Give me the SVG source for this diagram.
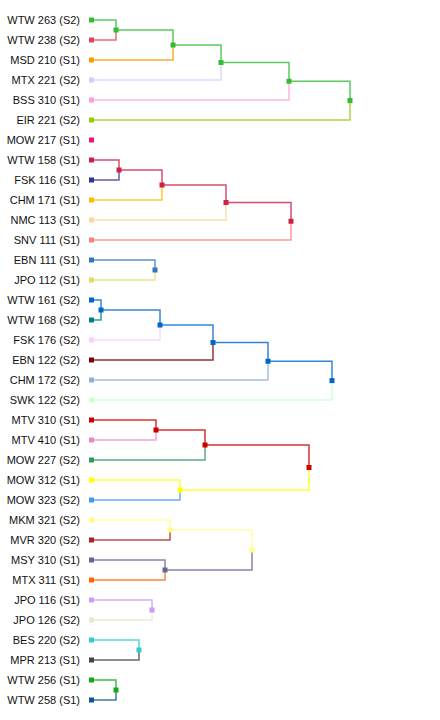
<svg xmlns="http://www.w3.org/2000/svg" width="440" height="720" viewBox="0 0 440 720">
<style>
.bg{fill:#ffffff}
.lbl{font-family:"Liberation Sans",Arial,sans-serif;font-size:11px;fill:#111111;text-anchor:end}
.c{fill:none;stroke-width:1.5;stroke-opacity:0.8}
</style>
<rect class="bg" x="0" y="0" width="440" height="720"/>
<g id="connectors">
<path class="c" stroke="#33bb33" d="M91.5 20H116V30"/>
<path class="c" stroke="#dd4455" d="M91.5 40H116V30"/>
<path class="c" stroke="#33bb33" d="M116 30H173V45"/>
<path class="c" stroke="#ff9900" d="M91.5 60H173V45"/>
<path class="c" stroke="#33bb33" d="M173 45H221V62.5"/>
<path class="c" stroke="#d0d0ff" d="M91.5 80H221V62.5"/>
<path class="c" stroke="#33bb33" d="M221 62.5H289V81.25"/>
<path class="c" stroke="#ffa0d4" d="M91.5 100H289V81.25"/>
<path class="c" stroke="#33bb33" d="M289 81.25H350V100.6"/>
<path class="c" stroke="#99cc11" d="M91.5 120H350V100.6"/>

<path class="c" stroke="#cc2244" d="M91.5 160H119V170"/>
<path class="c" stroke="#333399" d="M91.5 180H119V170"/>
<path class="c" stroke="#cc2244" d="M119 170H162V185"/>
<path class="c" stroke="#ffbb00" d="M91.5 200H162V185"/>
<path class="c" stroke="#cc2244" d="M162 185H226V202.5"/>
<path class="c" stroke="#ffd4a0" d="M91.5 220H226V202.5"/>
<path class="c" stroke="#cc2244" d="M226 202.5H291V221.25"/>
<path class="c" stroke="#ff8080" d="M91.5 240H291V221.25"/>

<path class="c" stroke="#3377cc" d="M91.5 260H155V270"/>
<path class="c" stroke="#dde066" d="M91.5 280H155V270"/>

<path class="c" stroke="#0066cc" d="M91.5 300H101V310"/>
<path class="c" stroke="#008080" d="M91.5 320H101V310"/>
<path class="c" stroke="#0066cc" d="M101 310H160V325"/>
<path class="c" stroke="#ffccff" d="M91.5 340H160V325"/>
<path class="c" stroke="#0066cc" d="M160 325H213V342.5"/>
<path class="c" stroke="#800000" d="M91.5 360H213V342.5"/>
<path class="c" stroke="#0066cc" d="M213 342.5H268V361.25"/>
<path class="c" stroke="#8cb0d8" d="M91.5 380H268V361.25"/>
<path class="c" stroke="#0066cc" d="M268 361.25H332V380.6"/>
<path class="c" stroke="#ccffcc" d="M91.5 400H332V380.6"/>

<path class="c" stroke="#cc0000" d="M91.5 420H156V430"/>
<path class="c" stroke="#ee88bb" d="M91.5 440H156V430"/>
<path class="c" stroke="#cc0000" d="M156 430H205V445"/>
<path class="c" stroke="#2e9960" d="M91.5 460H205V445"/>
<path class="c" stroke="#ffff00" d="M91.5 480H180V490"/>
<path class="c" stroke="#4499ee" d="M91.5 500H180V490"/>
<path class="c" stroke="#cc0000" d="M205 445H309V467.5"/>
<path class="c" stroke="#ffff00" d="M180 490H309V467.5"/>

<path class="c" stroke="#ffff88" d="M91.5 520H170V530"/>
<path class="c" stroke="#aa2222" d="M91.5 540H170V530"/>
<path class="c" stroke="#666699" d="M91.5 560H165V570"/>
<path class="c" stroke="#ff6600" d="M91.5 580H165V570"/>
<path class="c" stroke="#ffff88" d="M170 530H252V550"/>
<path class="c" stroke="#666699" d="M165 570H252V550"/>

<path class="c" stroke="#cc99ff" d="M91.5 600H152V610"/>
<path class="c" stroke="#e4e8d0" d="M91.5 620H152V610"/>

<path class="c" stroke="#33cccc" d="M91.5 640H139V650"/>
<path class="c" stroke="#444444" d="M91.5 660H139V650"/>

<path class="c" stroke="#11aa11" d="M91.5 680H116V690"/>
<path class="c" stroke="#115599" d="M91.5 700H116V690"/>
</g>

<g id="n_wtw263"><rect x="89" y="17.5" width="5" height="5" fill="#33bb33"/><text class="lbl" x="80" y="24">WTW 263 (S2)</text></g>
<g id="n_wtw238"><rect x="89" y="37.5" width="5" height="5" fill="#dd4455"/><text class="lbl" x="80" y="44">WTW 238 (S2)</text></g>
<g id="n_msd210"><rect x="89" y="57.5" width="5" height="5" fill="#ff9900"/><text class="lbl" x="80" y="64">MSD 210 (S1)</text></g>
<g id="n_mtx221"><rect x="89" y="77.5" width="5" height="5" fill="#d0d0ff"/><text class="lbl" x="80" y="84">MTX 221 (S2)</text></g>
<g id="n_bss310"><rect x="89" y="97.5" width="5" height="5" fill="#ffa0d4"/><text class="lbl" x="80" y="104">BSS 310 (S1)</text></g>
<g id="n_eir221"><rect x="89" y="117.5" width="5" height="5" fill="#99cc00"/><text class="lbl" x="80" y="124">EIR 221 (S2)</text></g>
<g id="n_mow217"><rect x="89" y="137.5" width="5" height="5" fill="#ee1177"/><text class="lbl" x="80" y="144">MOW 217 (S1)</text></g>
<g id="n_wtw158"><rect x="89" y="157.5" width="5" height="5" fill="#cc2244"/><text class="lbl" x="80" y="164">WTW 158 (S1)</text></g>
<g id="n_fsk116"><rect x="89" y="177.5" width="5" height="5" fill="#333399"/><text class="lbl" x="80" y="184">FSK 116 (S1)</text></g>
<g id="n_chm171"><rect x="89" y="197.5" width="5" height="5" fill="#ffbb00"/><text class="lbl" x="80" y="204">CHM 171 (S1)</text></g>
<g id="n_nmc113"><rect x="89" y="217.5" width="5" height="5" fill="#ffd4a0"/><text class="lbl" x="80" y="224">NMC 113 (S1)</text></g>
<g id="n_snv111"><rect x="89" y="237.5" width="5" height="5" fill="#ff8080"/><text class="lbl" x="80" y="244">SNV 111 (S1)</text></g>
<g id="n_ebn111"><rect x="89" y="257.5" width="5" height="5" fill="#3377bb"/><text class="lbl" x="80" y="264">EBN 111 (S1)</text></g>
<g id="n_jpo112"><rect x="89" y="277.5" width="5" height="5" fill="#dde066"/><text class="lbl" x="80" y="284">JPO 112 (S1)</text></g>
<g id="n_wtw161"><rect x="89" y="297.5" width="5" height="5" fill="#0066cc"/><text class="lbl" x="80" y="304">WTW 161 (S2)</text></g>
<g id="n_wtw168"><rect x="89" y="317.5" width="5" height="5" fill="#008080"/><text class="lbl" x="80" y="324">WTW 168 (S2)</text></g>
<g id="n_fsk176"><rect x="89" y="337.5" width="5" height="5" fill="#ffccff"/><text class="lbl" x="80" y="344">FSK 176 (S2)</text></g>
<g id="n_ebn122"><rect x="89" y="357.5" width="5" height="5" fill="#800000"/><text class="lbl" x="80" y="364">EBN 122 (S2)</text></g>
<g id="n_chm172"><rect x="89" y="377.5" width="5" height="5" fill="#8cb0d8"/><text class="lbl" x="80" y="384">CHM 172 (S2)</text></g>
<g id="n_swk122"><rect x="89" y="397.5" width="5" height="5" fill="#ccffcc"/><text class="lbl" x="80" y="404">SWK 122 (S2)</text></g>
<g id="n_mtv310"><rect x="89" y="417.5" width="5" height="5" fill="#cc0000"/><text class="lbl" x="80" y="424">MTV 310 (S1)</text></g>
<g id="n_mtv410"><rect x="89" y="437.5" width="5" height="5" fill="#ee88bb"/><text class="lbl" x="80" y="444">MTV 410 (S1)</text></g>
<g id="n_mow227"><rect x="89" y="457.5" width="5" height="5" fill="#2e9960"/><text class="lbl" x="80" y="464">MOW 227 (S2)</text></g>
<g id="n_mow312"><rect x="89" y="477.5" width="5" height="5" fill="#ffff00"/><text class="lbl" x="80" y="484">MOW 312 (S1)</text></g>
<g id="n_mow323"><rect x="89" y="497.5" width="5" height="5" fill="#4499ee"/><text class="lbl" x="80" y="504">MOW 323 (S2)</text></g>
<g id="n_mkm321"><rect x="89" y="517.5" width="5" height="5" fill="#ffff88"/><text class="lbl" x="80" y="524">MKM 321 (S2)</text></g>
<g id="n_mvr320"><rect x="89" y="537.5" width="5" height="5" fill="#aa2222"/><text class="lbl" x="80" y="544">MVR 320 (S2)</text></g>
<g id="n_msy310"><rect x="89" y="557.5" width="5" height="5" fill="#666699"/><text class="lbl" x="80" y="564">MSY 310 (S1)</text></g>
<g id="n_mtx311"><rect x="89" y="577.5" width="5" height="5" fill="#ff6600"/><text class="lbl" x="80" y="584">MTX 311 (S1)</text></g>
<g id="n_jpo116"><rect x="89" y="597.5" width="5" height="5" fill="#cc99ff"/><text class="lbl" x="80" y="604">JPO 116 (S1)</text></g>
<g id="n_jpo126"><rect x="89" y="617.5" width="5" height="5" fill="#e4e8d0"/><text class="lbl" x="80" y="624">JPO 126 (S2)</text></g>
<g id="n_bes220"><rect x="89" y="637.5" width="5" height="5" fill="#33cccc"/><text class="lbl" x="80" y="644">BES 220 (S2)</text></g>
<g id="n_mpr213"><rect x="89" y="657.5" width="5" height="5" fill="#444444"/><text class="lbl" x="80" y="664">MPR 213 (S1)</text></g>
<g id="n_wtw256"><rect x="89" y="677.5" width="5" height="5" fill="#11aa11"/><text class="lbl" x="80" y="684">WTW 256 (S1)</text></g>
<g id="n_wtw258"><rect x="89" y="697.5" width="5" height="5" fill="#115599"/><text class="lbl" x="80" y="704">WTW 258 (S1)</text></g>

<g id="m_a1"><rect x="113.5" y="27.5" width="5" height="5" fill="#33bb33"/></g>
<g id="m_a2"><rect x="170.5" y="42.5" width="5" height="5" fill="#33bb33"/></g>
<g id="m_a3"><rect x="218.5" y="60" width="5" height="5" fill="#33bb33"/></g>
<g id="m_a4"><rect x="286.5" y="78.75" width="5" height="5" fill="#33bb33"/></g>
<g id="m_a5"><rect x="347.5" y="98.1" width="5" height="5" fill="#33bb33"/></g>
<g id="m_b1"><rect x="116.5" y="167.5" width="5" height="5" fill="#cc2244"/></g>
<g id="m_b2"><rect x="159.5" y="182.5" width="5" height="5" fill="#cc2244"/></g>
<g id="m_b3"><rect x="223.5" y="200" width="5" height="5" fill="#cc2244"/></g>
<g id="m_b4"><rect x="288.5" y="218.75" width="5" height="5" fill="#cc2244"/></g>
<g id="m_c1"><rect x="152.5" y="267.5" width="5" height="5" fill="#3377bb"/></g>
<g id="m_d1"><rect x="98.5" y="307.5" width="5" height="5" fill="#0066cc"/></g>
<g id="m_d2"><rect x="157.5" y="322.5" width="5" height="5" fill="#0066cc"/></g>
<g id="m_d3"><rect x="210.5" y="340" width="5" height="5" fill="#0066cc"/></g>
<g id="m_d4"><rect x="265.5" y="358.75" width="5" height="5" fill="#0066cc"/></g>
<g id="m_d5"><rect x="329.5" y="378.1" width="5" height="5" fill="#0066cc"/></g>
<g id="m_e1"><rect x="153.5" y="427.5" width="5" height="5" fill="#cc0000"/></g>
<g id="m_e2"><rect x="202.5" y="442.5" width="5" height="5" fill="#cc0000"/></g>
<g id="m_e3"><rect x="177.5" y="487.5" width="5" height="5" fill="#ffff00"/></g>
<g id="m_e4"><rect x="306.5" y="465" width="5" height="5" fill="#cc0000"/></g>
<g id="m_f1"><rect x="167.5" y="527.5" width="5" height="5" fill="#ffff88"/></g>
<g id="m_f2"><rect x="162.5" y="567.5" width="5" height="5" fill="#666699"/></g>
<g id="m_f3"><rect x="249.5" y="547.5" width="5" height="5" fill="#ffff88"/></g>
<g id="m_g1"><rect x="149.5" y="607.5" width="5" height="5" fill="#cc99ff"/></g>
<g id="m_h1"><rect x="136.5" y="647.5" width="5" height="5" fill="#33cccc"/></g>
<g id="m_k1"><rect x="113.5" y="687.5" width="5" height="5" fill="#11aa11"/></g>
</svg>
